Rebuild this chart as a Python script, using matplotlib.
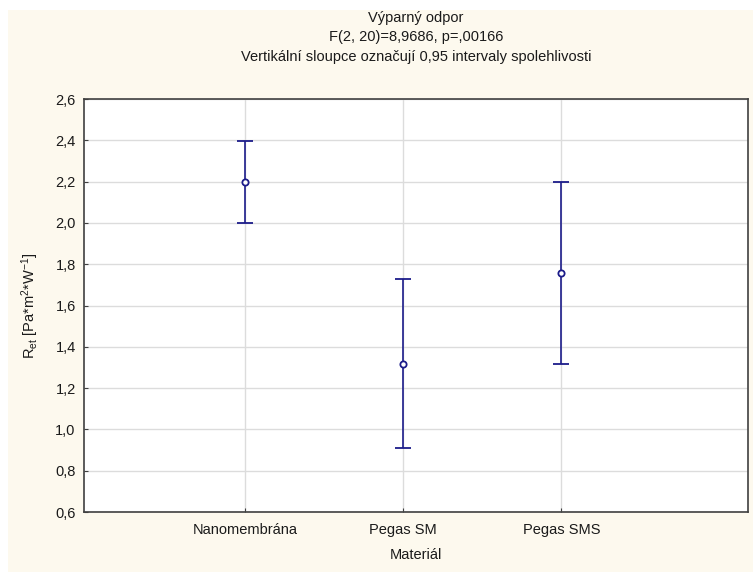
import matplotlib
matplotlib.use('Agg')
import matplotlib.pyplot as plt
import numpy as np
from matplotlib.ticker import FuncFormatter
from matplotlib.patches import Rectangle

plt.rcParams['font.family'] = ['Liberation Sans', 'DejaVu Sans']
plt.rcParams['mathtext.fontset'] = 'custom'
plt.rcParams['mathtext.rm'] = 'Liberation Sans'
plt.rcParams['mathtext.it'] = 'Liberation Sans'

# data
materials = ['Nanomembrána', 'Pegas SM', 'Pegas SMS']
means = [2.198, 1.318, 1.757]
ci_low = [2.001, 0.910, 1.317]
ci_high = [2.397, 1.730, 2.200]

title_lines = ['Výparný odpor',
               'F(2, 20)=8,9686, p=,00166',
               'Vertikální sloupce označují 0,95 intervaly spolehlivosti']

bg = '#fdf9ee'
navy = '#1c1c8a'

fig = plt.figure(figsize=(7.53, 5.72), dpi=100)
fig.patch.set_facecolor('white')
fig.patches.append(Rectangle((8 / 753, 0), 1 - 8 / 753, 1 - 10 / 572,
                             transform=fig.transFigure, facecolor=bg,
                             edgecolor='none', zorder=-10))

ax = fig.add_axes([84 / 753, 1 - 512 / 572, 664 / 753, 413 / 572])
ax.set_facecolor('white')

x = np.arange(len(materials))
means = np.array(means)
yerr = np.vstack([means - np.array(ci_low), np.array(ci_high) - means])
ax.errorbar(x, means, yerr=yerr, fmt='o', color=navy, ecolor=navy,
            elinewidth=1.2, capsize=6, capthick=1.2, markersize=4.5,
            markerfacecolor='white', markeredgewidth=1.3, zorder=3)

ax.set_xlim(-1.02, 3.18)
ax.set_ylim(0.6, 2.6)
ax.set_yticks(np.arange(0.6, 2.61, 0.2))
ax.set_xticks(x)
ax.set_xticklabels(materials)
ax.yaxis.set_major_formatter(FuncFormatter(lambda v, p: f'{v:.1f}'.replace('.', ',')))

ax.grid(True, color='#dcdcdc', linewidth=1)
ax.set_axisbelow(True)
for s in ax.spines.values():
    s.set_color('#404040')
    s.set_linewidth(1.2)
ax.tick_params(direction='in', length=3, color='#404040', labelsize=10.5,
               labelcolor='#1a1a1a', pad=8)
ax.tick_params(axis='y', pad=6)

ax.set_xlabel('Materiál', fontsize=10.5, color='#1a1a1a', labelpad=8)
ax.set_ylabel(r'R$_{\mathrm{et}}$ [Pa*m$^{2}$*W$^{-1}$]', fontsize=10.5,
              color='#1a1a1a', labelpad=10)

for i, t in enumerate(title_lines):
    fig.text(416 / 753, 1 - (18 + i * 19.5) / 572, t, ha='center', va='center',
             fontsize=10.5, color='#1a1a1a')

fig.savefig('out.png', dpi=100, facecolor=fig.get_facecolor())
